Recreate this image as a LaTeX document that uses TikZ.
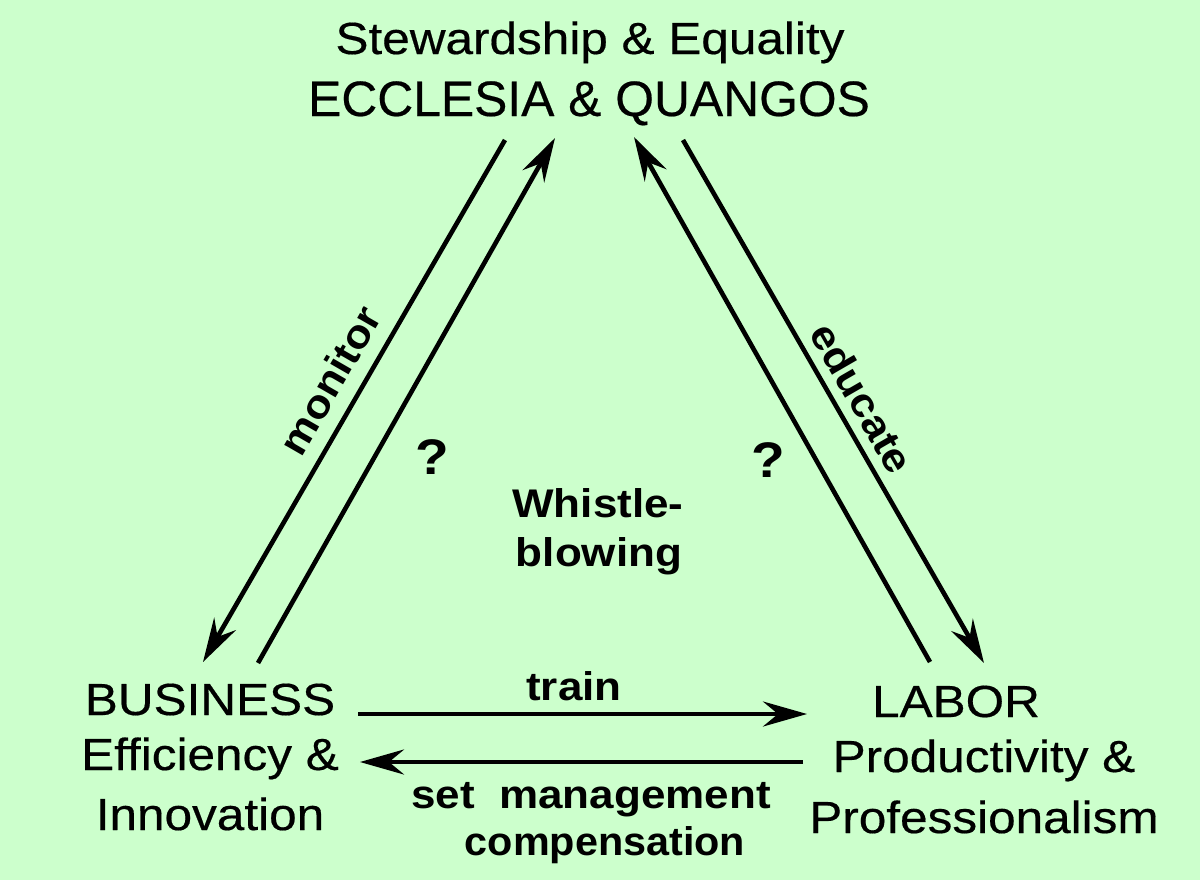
\documentclass[tikz,border=0pt]{standalone}
\usepackage{fontspec}
\setmainfont{Liberation Sans}
\newfontfamily\widefont{Liberation Sans}[FakeStretch=1.1,FakeBold=0.4]
\newfontfamily\wideboldfont{Liberation Sans Bold}[FakeStretch=1.1]
\newfontfamily\plainfont{Liberation Sans}[FakeBold=0.4]
\usetikzlibrary{arrows.meta}
\definecolor{bg}{RGB}{204,255,204}
\begin{document}
\begin{tikzpicture}[x=0.5pt,y=-0.5pt,
  vtx/.style={anchor=base,inner sep=0pt,font=\widefont\fontsize{22.5}{27}\selectfont},
  big/.style={anchor=base,inner sep=0pt,font=\plainfont\fontsize{24.9}{29}\selectfont},
  lbl/.style={anchor=base,inner sep=0pt,font=\wideboldfont\fontsize{20}{24}\selectfont},
  rlbl/.style={anchor=center,inner sep=0pt,font=\wideboldfont\fontsize{20}{24}\selectfont},
  qm/.style={anchor=base,inner sep=0pt,font=\wideboldfont\fontsize{25}{30}\selectfont},
  conn/.style={line width=2.3pt,-{Stealth[length=22pt,width=12.5pt,inset=7.5pt]}}]
\fill[bg] (0,0) rectangle (1200,880);
\useasboundingbox (0,0) rectangle (1200,880);

% vertex texts
\node[vtx] (top1) at (590,54) {Stewardship \& Equality};
\node[big] (top2) at (589,116) {ECCLESIA \& QUANGOS};
\node[vtx] (bus1) at (210,715) {BUSINESS};
\node[vtx] (bus2) at (210,770) {Efficiency \&};
\node[vtx] (bus3) at (210,830) {Innovation};
\node[vtx] (lab1) at (956,717) {LABOR};
\node[vtx] (lab2) at (984,772) {Productivity \&};
\node[vtx] (lab3) at (984,833) {Professionalism};

% arrow end points
\coordinate (mA) at (505,140);
\coordinate (mB) at (203,662);
\coordinate (qA) at (258,663);
\coordinate (qB) at (555,138);
\coordinate (rA) at (930,662);
\coordinate (rB) at (634,137);
\coordinate (eA) at (683,140);
\coordinate (eB) at (984,663);
\coordinate (tA) at (358,714);
\coordinate (tB) at (807,714);
\coordinate (sA) at (803,762);
\coordinate (sB) at (360,762);

\draw[conn] (mA) -- (mB);
\draw[conn] (qA) -- (qB);
\draw[conn] (rA) -- (rB);
\draw[conn] (eA) -- (eB);
\draw[conn] (tA) -- (tB);
\draw[conn] (sA) -- (sB);

% labels
\node[rlbl,rotate=60] (mon) at (330,380) {monitor};
\node[rlbl,rotate=-60] (edu) at (862,398) {educate};
\node[qm] (q1) at (432,474) {?};
\node[qm] (q2) at (768,477) {?};
\node[lbl] (wh1) at (598,517) {Whistle-};
\node[lbl] (wh2) at (599,566) {blowing};
\node[lbl] (tr) at (574,700) {train};
\node[lbl] (set) at (591,808) {set\ \ management};
\node[lbl] (comp) at (605,855) {\scalebox{0.94}[1]{compensation}};
\end{tikzpicture}
\end{document}
